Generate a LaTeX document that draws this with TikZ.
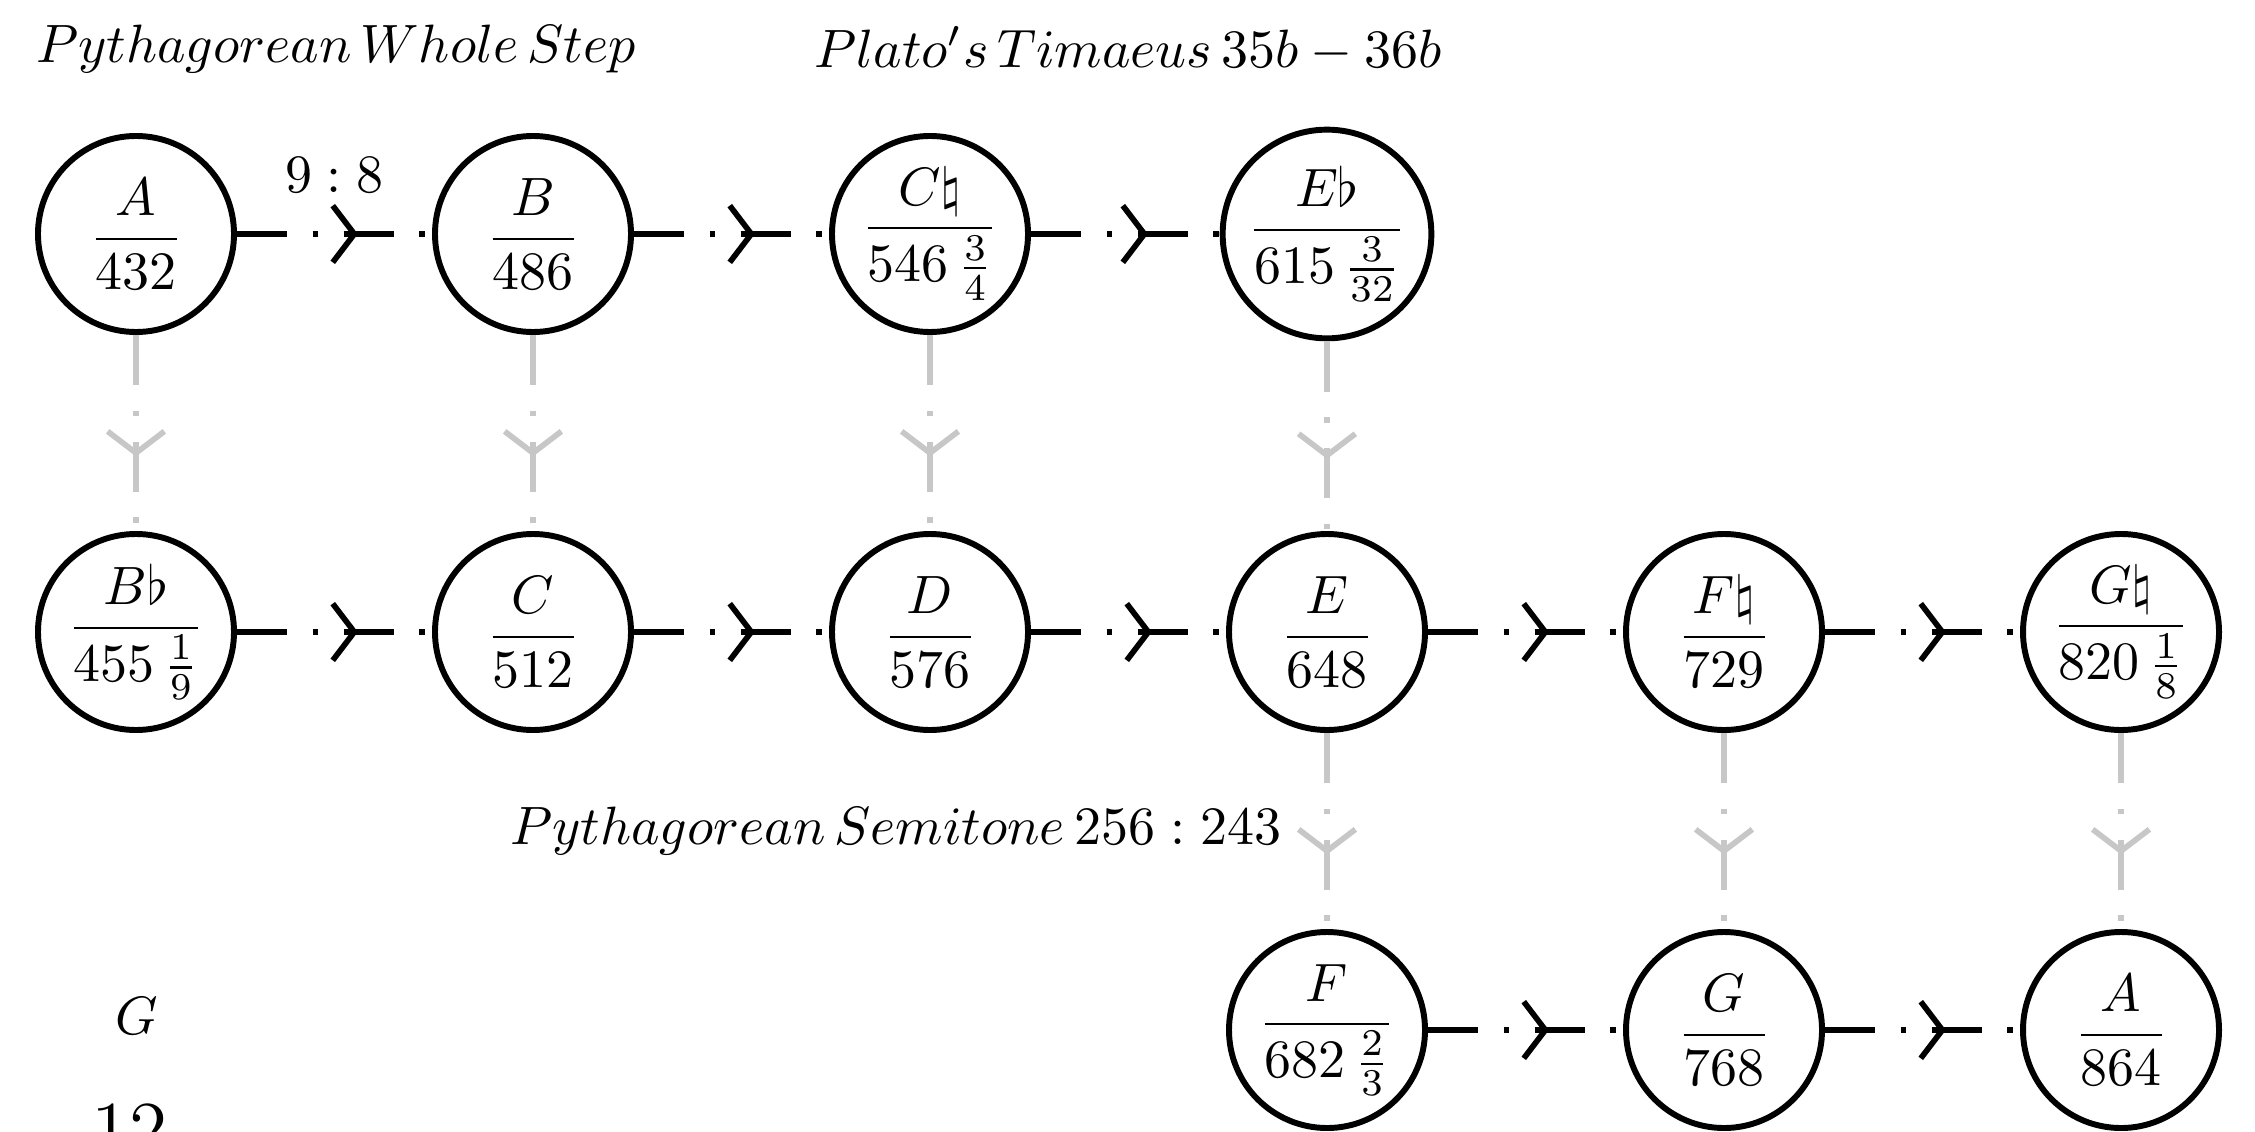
\documentclass[tikz,border=0pt]{standalone}
\usepackage{amsmath}
\usetikzlibrary{arrows.meta,decorations.markings}
\tikzset{
  note/.style={circle, draw, line width=1.1pt, minimum size=36.3pt, inner sep=0pt},
  linkbase/.style={line width=1.05pt, dash pattern=on 9.3pt off 4.7pt on 1.05pt off 4.7pt,
    decoration={markings, mark=at position 0.62 with {\arrow{Straight Barb[length=4pt,width=10.5pt]}}},
    postaction={decorate}},
  hlink/.style={linkbase, draw=black},
  vlink/.style={linkbase, draw=black!22},
}
\begin{document}
\begin{tikzpicture}[x=0.185185pt, y=-0.185185pt]
\useasboundingbox (0,0) rectangle (2255,1132);
% titles
\node (whole) at (336,49) {$Pythagorean\,Whole\,Step$};
\node (plato) at (1128,49) {$Plato's\,Timaeus\,35b-36b$};
% row 1
\node[note] (A1) at (136,234) {$\dfrac{A}{432}$};
\node[note] (B1) at (533,234) {$\dfrac{B}{486}$};
\node[note] (C1) at (930,234) {$\dfrac{C\natural}{546\,\frac{3}{4}}$};
\node[note] (E1) at (1327,234) {$\dfrac{E\flat}{615\,\frac{3}{32}}$};
% row 2
\node[note] (B2) at (136,632) {$\dfrac{B\flat}{455\,\frac{1}{9}}$};
\node[note] (C2) at (533,632) {$\dfrac{C}{512}$};
\node[note] (D2) at (930,632) {$\dfrac{D}{576}$};
\node[note] (E2) at (1327,632) {$\dfrac{E}{648}$};
\node[note] (F2) at (1724,632) {$\dfrac{F\natural}{729}$};
\node[note] (G2) at (2121,632) {$\dfrac{G\natural}{820\,\frac{1}{8}}$};
% row 3
\node (g) at (137,1016) {$G$};
\node[font=\Large] (twelve) at (130,1130) {$12$};
\node[note] (F3) at (1327,1030) {$\dfrac{F}{682\,\frac{2}{3}}$};
\node[note] (G3) at (1724,1030) {$\dfrac{G}{768}$};
\node[note] (A3) at (2121,1030) {$\dfrac{A}{864}$};
% horizontal links
\draw[hlink] (A1) -- node[midway, yshift=10.9pt] (ratio) {$9:8$} (B1);
\draw[hlink] (B1) -- (C1);
\draw[hlink] (C1) -- (E1);
\draw[hlink] (B2) -- (C2);
\draw[hlink] (C2) -- (D2);
\draw[hlink] (D2) -- (E2);
\draw[hlink] (E2) -- (F2);
\draw[hlink] (F2) -- (G2);
\draw[hlink] (F3) -- (G3);
\draw[hlink] (G3) -- (A3);
% vertical links
\draw[vlink] (A1) -- (B2);
\draw[vlink] (B1) -- (C2);
\draw[vlink] (C1) -- (D2);
\draw[vlink] (E1) -- (E2);
\draw[vlink] (E2) -- node[midway, left=4.6pt, text=black] (semi) {$Pythagorean\,Semitone\,256:243$} (F3);
\draw[vlink] (F2) -- (G3);
\draw[vlink] (G2) -- (A3);
\end{tikzpicture}
\end{document}
